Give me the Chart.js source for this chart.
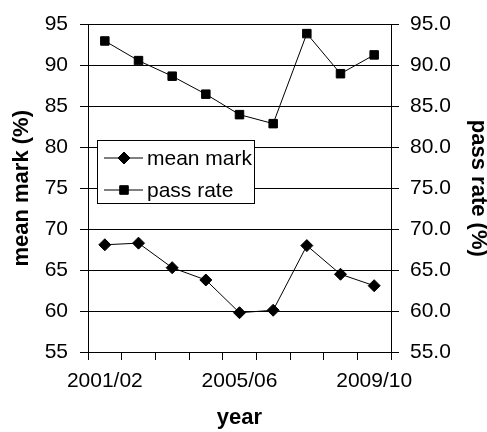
<!DOCTYPE html>
<html>
<head>
<meta charset="utf-8">
<script src="https://cdn.jsdelivr.net/npm/chart.js@4/dist/chart.umd.min.js"></script>
<style>
  html, body { margin: 0; padding: 0; background: #fff; }
  #wrap { width: 487px; height: 432px; }
</style>
</head>
<body>
<div id="wrap"><canvas id="chart-area" width="487" height="432"></canvas></div>
<script>
var years = ["2001/02", "2002/03", "2003/04", "2004/05", "2005/06", "2006/07", "2007/08", "2008/09", "2009/10"];
var meanMark = [68.1, 68.3, 65.3, 63.8, 59.8, 60.1, 68.0, 64.5, 63.1];
var passRate = [93.0, 90.6, 88.7, 86.5, 84.0, 82.9, 93.9, 89.0, 91.3];
var yMin = 55, yMax = 95, yStep = 5;

var font = "'Liberation Sans', Arial, sans-serif";

// boxed legend drawn inside the plot, upper left
var boxLegend = {
    id: 'boxLegend',
    afterDraw: function(chart) {
        var ctx = chart.ctx;
        var x0 = 97, y0 = 140, w = 157, h = 63;
        ctx.save();
        ctx.fillStyle = '#fff';
        ctx.fillRect(x0, y0, w, h);
        ctx.strokeStyle = '#000';
        ctx.lineWidth = 1;
        ctx.strokeRect(x0 + 0.5, y0 + 0.5, w, h);
        chart.data.datasets.forEach(function(ds, i) {
            var y = y0 + 18 + i * 32;
            ctx.beginPath();
            ctx.moveTo(x0 + 7, y);
            ctx.lineTo(x0 + 46, y);
            ctx.strokeStyle = '#000';
            ctx.stroke();
            Chart.helpers.drawPoint(ctx, {pointStyle: ds.pointStyle, radius: ds.pointRadius, borderWidth: 1}, x0 + 27, y);
            ctx.fillStyle = '#000';
            ctx.fill();
            ctx.font = '21px ' + font;
            ctx.textBaseline = 'middle';
            ctx.textAlign = 'left';
            ctx.fillText(ds.label, x0 + 50, y + 1);
        });
        ctx.restore();
    }
};

var ctx = document.getElementById("chart-area").getContext("2d");
var myChart = new Chart(ctx, {
    type: 'line',
    data: {
        labels: years,
        datasets: [
        {
            label: "mean mark",
            data: meanMark,
            yAxisID: 'y',
            borderColor: '#000',
            backgroundColor: '#000',
            borderWidth: 1,
            pointStyle: 'rectRot',
            pointRadius: 6,
            pointBackgroundColor: '#000',
            pointBorderColor: '#000',
            tension: 0
        },
        {
            label: "pass rate",
            data: passRate,
            yAxisID: 'y1',
            borderColor: '#000',
            backgroundColor: '#000',
            borderWidth: 1,
            pointStyle: 'rect',
            pointRadius: 6,
            pointBackgroundColor: '#000',
            pointBorderColor: '#000',
            tension: 0
        }
        ]
    },
    options: {
        responsive: false,
        animation: false,
        layout: { padding: { top: 24, left: 0, right: 0, bottom: 0 } },
        plugins: {
            legend: { display: false },
            tooltip: { enabled: false }
        },
        scales: {
            x: {
                offset: true,
                grid: { offset: true, drawOnChartArea: false, drawTicks: true, tickLength: 8, color: '#000' },
                border: { color: '#000' },
                ticks: {
                    autoSkip: false,
                    maxRotation: 0,
                    color: '#000',
                    font: { family: font, size: 21 },
                    padding: 9,
                    callback: function(v, i) { return i % 4 === 0 ? years[i] : ''; }
                },
                title: { display: true, text: 'year', color: '#000', font: { family: font, size: 22, weight: 'bold' }, padding: { top: 0, bottom: 1 } },
                afterFit: function(s) { s.height = 432 - 352; }
            },
            y: {
                position: 'left',
                min: yMin, max: yMax,
                grid: { color: '#000', tickLength: 8 },
                border: { color: '#000' },
                ticks: { stepSize: yStep, color: '#000', font: { family: font, size: 21 }, padding: 12 },
                title: { display: true, text: 'mean mark (%)', color: '#000', font: { family: font, size: 22, weight: 'bold' }, padding: { top: 9, bottom: 0 } },
                afterFit: function(s) { s.width = 88; }
            },
            y1: {
                position: 'right',
                min: yMin, max: yMax,
                grid: { color: '#000', tickLength: 8, drawOnChartArea: false },
                border: { color: '#000' },
                ticks: { stepSize: yStep, color: '#000', font: { family: font, size: 21 }, padding: 11,
                    callback: function(v) { return v.toFixed(1); } },
                title: { display: true, text: 'pass rate (%)', color: '#000', font: { family: font, size: 22, weight: 'bold', lineHeight: 0.8 }, padding: { top: 0, bottom: 0 } },
                afterFit: function(s) { s.width = 487 - 391; }
            }
        }
    },
    plugins: [boxLegend]
});
</script>
</body>
</html>
